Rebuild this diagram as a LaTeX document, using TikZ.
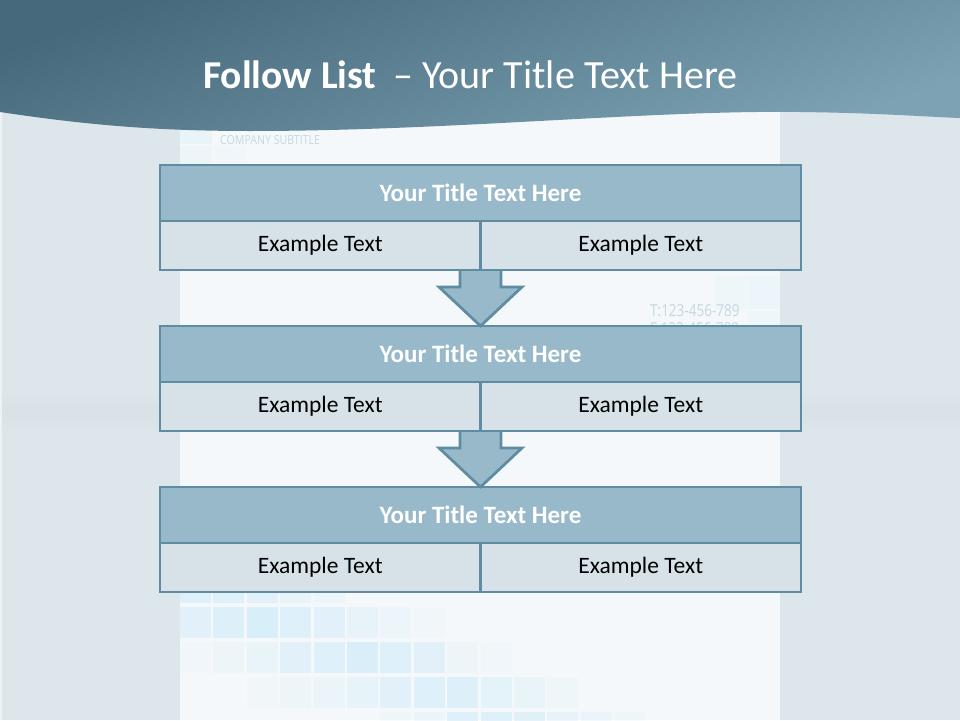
\documentclass[tikz,border=0pt]{standalone}
\usepackage{fontspec}
\setmainfont{Carlito}
\newfontfamily\decofont{Open Sans}
\usetikzlibrary{calc}
\definecolor{bgside}{HTML}{DCE6EB}
\definecolor{bgpanel}{HTML}{F4F8FA}
\definecolor{hdtop}{HTML}{46697B}
\definecolor{hdbot}{HTML}{7CA2B4}
\definecolor{titlefill}{HTML}{97B9C9}
\definecolor{textfill}{HTML}{D7E2E8}
\definecolor{edge}{HTML}{5E8CA1}
\definecolor{sq}{HTML}{D6EDF9}
\definecolor{deco}{HTML}{C6D7E1}
\tikzset{
  titlebox/.style={draw=edge, line width=2.7pt, fill=titlefill, minimum width=641pt, minimum height=56pt,
    outer sep=0pt, inner sep=0pt, text=white, font=\fontsize{25}{30}\selectfont\bfseries},
  textbox/.style={draw=edge, line width=2.7pt, fill=textfill, minimum width=320.5pt, minimum height=49pt,
    outer sep=0pt, inner sep=0pt, text=black, font=\fontsize{23.5}{28}\selectfont},
  downarrow/.style={draw=edge, line width=2.7pt, line join=miter},
  tile/.style={fill=sq, draw=none}
}
\begin{document}
\begin{tikzpicture}[x=1pt,y=-1pt]
\useasboundingbox (0,0) rectangle (960,720);
% background
\fill[bgside] (0,0) rectangle (960,720);
\shade[top color=bgside, bottom color=bgside, middle color=black!2!bgside] (0,390) rectangle (180,435);
\shade[top color=bgside, bottom color=bgside, middle color=black!2!bgside] (780,390) rectangle (960,435);
\fill[white!50!bgside] (0,0) rectangle (2,720);
\fill[bgpanel] (180,100) rectangle (780,720);
% decorative tiles (bottom)
\foreach \c/\r/\o in {0/0/0.7,1/0/0.7,2/0/0.6,3/0/0.35,4/0/0.25,
  0/1/0.6,1/1/0.75,2/1/0.9,3/1/0.7,4/1/0.6,5/1/0.4,6/1/0.25,7/1/0.12,
  0/2/0.1,1/2/0.2,2/2/0.35,3/2/0.6,4/2/0.7,5/2/0.85,6/2/0.7,7/2/0.6,8/2/0.2,9/2/0.1,
  2/3/0.08,3/3/0.2,4/3/0.3,5/3/0.45,6/3/0.6,7/3/0.7,8/3/0.75,9/3/0.5,10/3/0.35,11/3/0.15,
  6/4/0.15,7/4/0.3,8/4/0.7,9/4/0.7,10/4/0.65,11/4/0.45,12/4/0.3,13/4/0.15}
  \fill[tile, opacity=\o] ({180+33.4*\c},{572+35*\r}) rectangle ++(31,31);
% decorative tiles (top corners)
\fill[tile, opacity=0.35] (180,118) rectangle ++(32,26);
\fill[tile, opacity=0.2] (180,146) rectangle ++(32,20);
\fill[tile, opacity=0.12] (214,146) rectangle ++(32,20);
\fill[tile, opacity=0.25] (748,276) rectangle ++(32,33);
\fill[tile, opacity=0.15] (715,276) rectangle ++(32,33);
\fill[tile, opacity=0.15] (748,311) rectangle ++(32,20);
% decorative texts
\node[anchor=base west, inner sep=0pt, text=deco, font=\decofont\fontsize{12.5}{14}\selectfont, xscale=0.85] (cs) at (220,144) {COMPANY SUBTITLE};
\node[anchor=base west, inner sep=0pt, text=deco, font=\decofont\fontsize{16.5}{18}\selectfont, xscale=0.82] (tel) at (650,316) {T:123-456-789};
\node[anchor=base west, inner sep=0pt, text=deco, font=\decofont\fontsize{16.5}{18}\selectfont, xscale=0.82] (fax) at (650,334) {F:123-456-789};
% header wave
\shade[top color=hdtop, bottom color=hdbot, shading angle=20]
  (0,0) -- (960,0) -- (960,118)
  .. controls (930,117) and (880,113) .. (800,112)
  .. controls (650,110) and (450,131) .. (250,131)
  .. controls (150,131) and (80,124) .. (0,112) -- cycle;
\node[anchor=base west, inner sep=0pt, text=white, font=\fontsize{40}{46}\selectfont] (head) at (203,88)
  {{\fontsize{39.5}{46}\selectfont\bfseries Follow List}\hspace{17pt}– Your Title Text Here};
% boxes
\node[titlebox, anchor=north west] (t1) at (160,165) {Your Title Text Here};
\node[textbox, anchor=north west] (l1) at (t1.south west) {Example Text};
\node[textbox, anchor=north east] (r1) at (t1.south east) {Example Text};
\node[titlebox, anchor=north west] (t2) at (160,326) {Your Title Text Here};
\node[textbox, anchor=north west] (l2) at (t2.south west) {Example Text};
\node[textbox, anchor=north east] (r2) at (t2.south east) {Example Text};
\node[titlebox, anchor=north west] (t3) at (160,487) {Your Title Text Here};
\node[textbox, anchor=north west] (l3) at (t3.south west) {Example Text};
\node[textbox, anchor=north east] (r3) at (t3.south east) {Example Text};
% arrows
\foreach \a/\b in {l1/t2, l2/t3}{
  \fill[titlefill] ($(\a.south east)+(-20.5,0)$) -- ++(0,17) -- ++(-21,0) -- (\b.north)
    -- ($(\a.south east)+(41.5,17)$) -- ++(-21,0) -- ++(0,-17) -- cycle;
  \draw[downarrow] ($(\a.south east)+(-20.5,0)$) -- ++(0,17) -- ++(-21,0) -- (\b.north)
    -- ($(\a.south east)+(41.5,17)$) -- ++(-21,0) -- ++(0,-17);
}
% redraw box borders over arrow ends
\foreach \n in {l1,r1,l2,r2}{\draw[edge, line width=2.7pt] (\n.south west) -- (\n.south east);}
\draw[edge, line width=2.7pt] (t2.north west) -- (t2.north east);
\draw[edge, line width=2.7pt] (t3.north west) -- (t3.north east);
\end{tikzpicture}
\end{document}
